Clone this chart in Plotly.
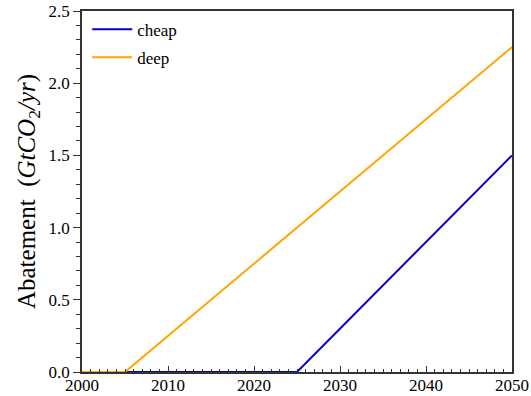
import plotly.graph_objects as go

# Abatement pathways (GtCO2/yr) at their breakpoints
cheap_years = [2000, 2025, 2050]
cheap_values = [0.0, 0.0, 1.5]
deep_years = [2000, 2005, 2050]
deep_values = [0.0, 0.0, 2.25]

font_family = "Liberation Serif, DejaVu Serif, serif"

fig = go.Figure()
fig.add_trace(go.Scatter(x=cheap_years, y=cheap_values, mode="lines", name="cheap",
                         legendgroup="cheap", line=dict(color="#0000cc", width=2)))
fig.add_trace(go.Scatter(x=deep_years, y=deep_values, mode="lines", name="deep",
                         legendgroup="deep", line=dict(color="#ffa500", width=2)))

fig.update_layout(
    width=531, height=396,
    margin=dict(l=82, r=19, t=11, b=24, autoexpand=False),
    plot_bgcolor="white", paper_bgcolor="white",
    font=dict(family=font_family, color="black", size=17),
    showlegend=True,
    legend=dict(x=0.012, y=0.998, xanchor="left", yanchor="top",
                bgcolor="rgba(0,0,0,0)", font=dict(size=17, family=font_family),
                itemwidth=40, tracegroupgap=3),
)
fig.update_xaxes(
    range=[2000, 2050], tickvals=[2000, 2010, 2020, 2030, 2040, 2050],
    ticks="inside", ticklen=6, tickcolor="#333", showgrid=False, zeroline=False,
    showline=True, linecolor="#333", linewidth=1.5, mirror=True,
    minor=dict(dtick=1, ticks="inside", ticklen=3, tickcolor="#333", showgrid=False),
    tickfont=dict(size=17, family=font_family, color="black"), automargin=False,
    ticklabelstandoff=-3,
)
fig.update_yaxes(
    range=[0, 2.5], tickvals=[0, 0.5, 1.0, 1.5, 2.0, 2.5], tickformat=".1f",
    ticks="outside", ticklen=7, tickcolor="#333", showgrid=False, zeroline=False,
    showline=True, linecolor="#333", linewidth=1.5, mirror=True,
    minor=dict(dtick=0.1, ticks="outside", ticklen=4, tickcolor="#333", showgrid=False),
    tickfont=dict(size=17, family=font_family, color="black"), automargin=False,
    title=dict(text="Abatement  (<i>GtCO</i><sub>2</sub><i>/yr</i>)",
               font=dict(size=25, family=font_family, color="black"), standoff=6),
)

fig.write_html("out.html")
